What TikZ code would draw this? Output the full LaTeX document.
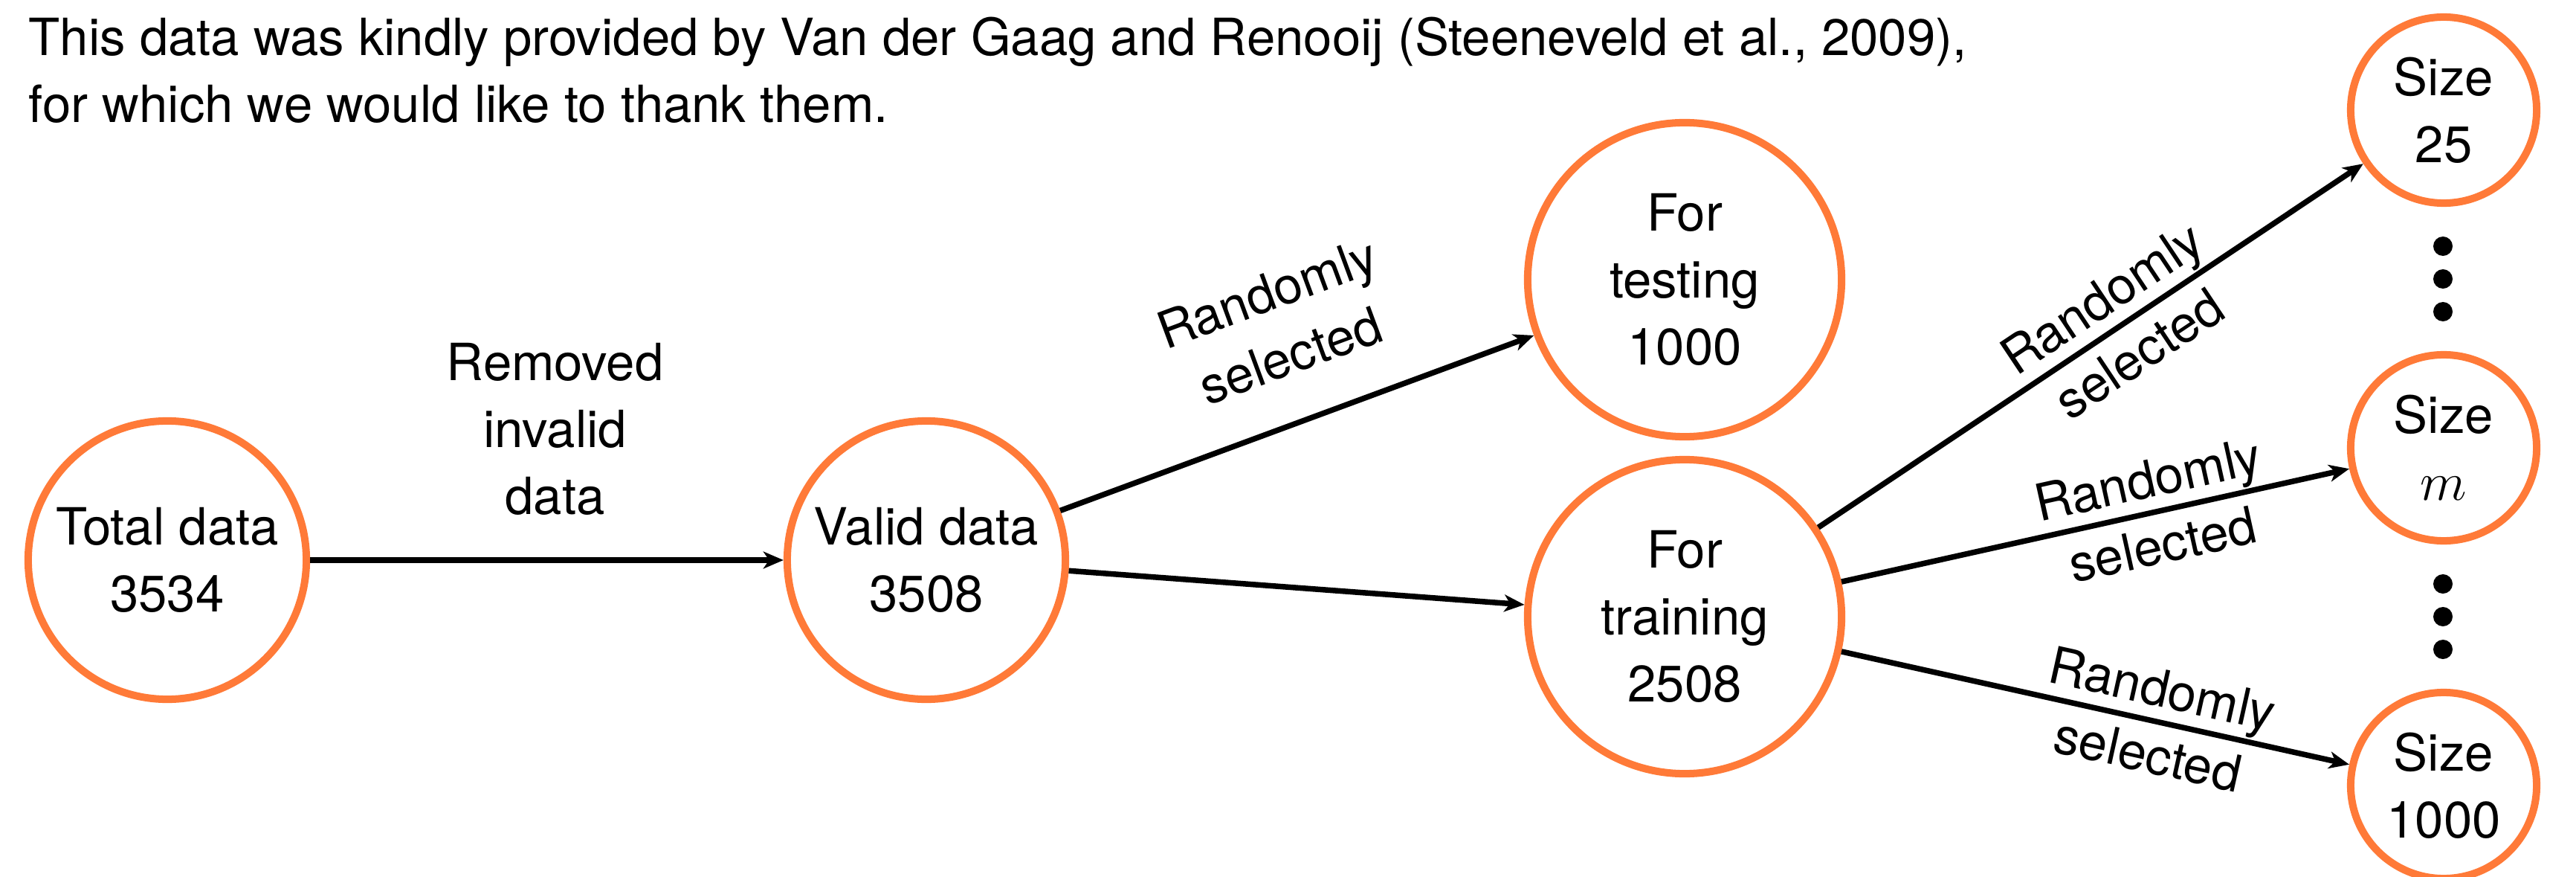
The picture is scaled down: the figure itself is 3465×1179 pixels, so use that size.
\documentclass[tikz,border=0pt]{standalone}
\usepackage{fontspec}
\setmainfont{TeX Gyre Heros}
\usetikzlibrary{arrows.meta,calc}
\definecolor{orng}{RGB}{255,122,56}
\begin{document}
\begin{tikzpicture}[x=0.01cm, y=-0.01cm,
  every node/.style={font=\fontsize{19.6}{25.6}\selectfont},
  bubble/.style={circle, draw=orng, line width=2.85pt, inner sep=0pt, align=center, text=black},
  bigbub/.style={bubble, minimum size=3.74cm},
  hugebub/.style={bubble, minimum size=4.22cm},
  smallbub/.style={bubble, minimum size=2.5cm},
  conn/.style={line width=2.13pt, -{Stealth[length=7.7pt,width=6.5pt,inset=2.2pt]}},
  lbl/.style={align=center, inner sep=0pt},
  dotmark/.style={circle, fill=black, inner sep=0pt, minimum size=0.26cm}]
\useasboundingbox (0,0) rectangle (3465,1179);

% header
\node[anchor=base west, inner sep=0pt] (h1) at (38,75) {This data was kindly provided by Van der Gaag and Renooij (Steeneveld et al., 2009),};
\node[anchor=base west, inner sep=0pt] (h2) at (38,165) {for which we would like to thank them.};

% nodes
\node[bigbub] (total) at (225,753) {Total data\\3534};
\node[bigbub] (valid) at (1246,753) {Valid data\\3508};
\node[hugebub] (test) at (2266,376) {For\\testing\\1000};
\node[hugebub] (train) at (2266,829) {For\\training\\2508};
\node[smallbub] (s25) at (3287,148) {Size\\25};
\node[smallbub] (sm) at (3287,602) {Size\\$m$};
\node[smallbub] (s1000) at (3287,1056) {Size\\1000};

% dots
\node[dotmark] (d1) at (3286,331) {};
\node[dotmark] (d2) at (3286,375) {};
\node[dotmark] (d3) at (3286,419) {};
\node[dotmark] (d4) at (3286,785) {};
\node[dotmark] (d5) at (3286,829) {};
\node[dotmark] (d6) at (3286,873) {};

% connectors
\draw[conn] (total) -- (valid);
\draw[conn] (valid) -- (test);
\draw[conn] (valid) -- (train);
\draw[conn] (train) -- (s25);
\draw[conn] (train) -- (sm);
\draw[conn] (train) -- (s1000);

% labels
\node[lbl] (l1) at ($(total)!0.511!(valid)+(0,-176)$) {Removed\\invalid\\data};
\node[lbl, rotate=20.3] (l2) at ($(valid)!0.51!(test)!1.33cm!90:(test)$) {Randomly\\selected};
\node[lbl, rotate=33.7] (l3) at ($(train)!0.574!(s25)$) {Randomly\\selected};
\node[lbl, rotate=12.5] (l4) at ($(train)!0.62!(sm)$) {Randomly\\selected};
\node[lbl, rotate=-12.5] (l5) at ($(train)!0.62!(s1000)$) {Randomly\\selected};
\end{tikzpicture}
\end{document}
